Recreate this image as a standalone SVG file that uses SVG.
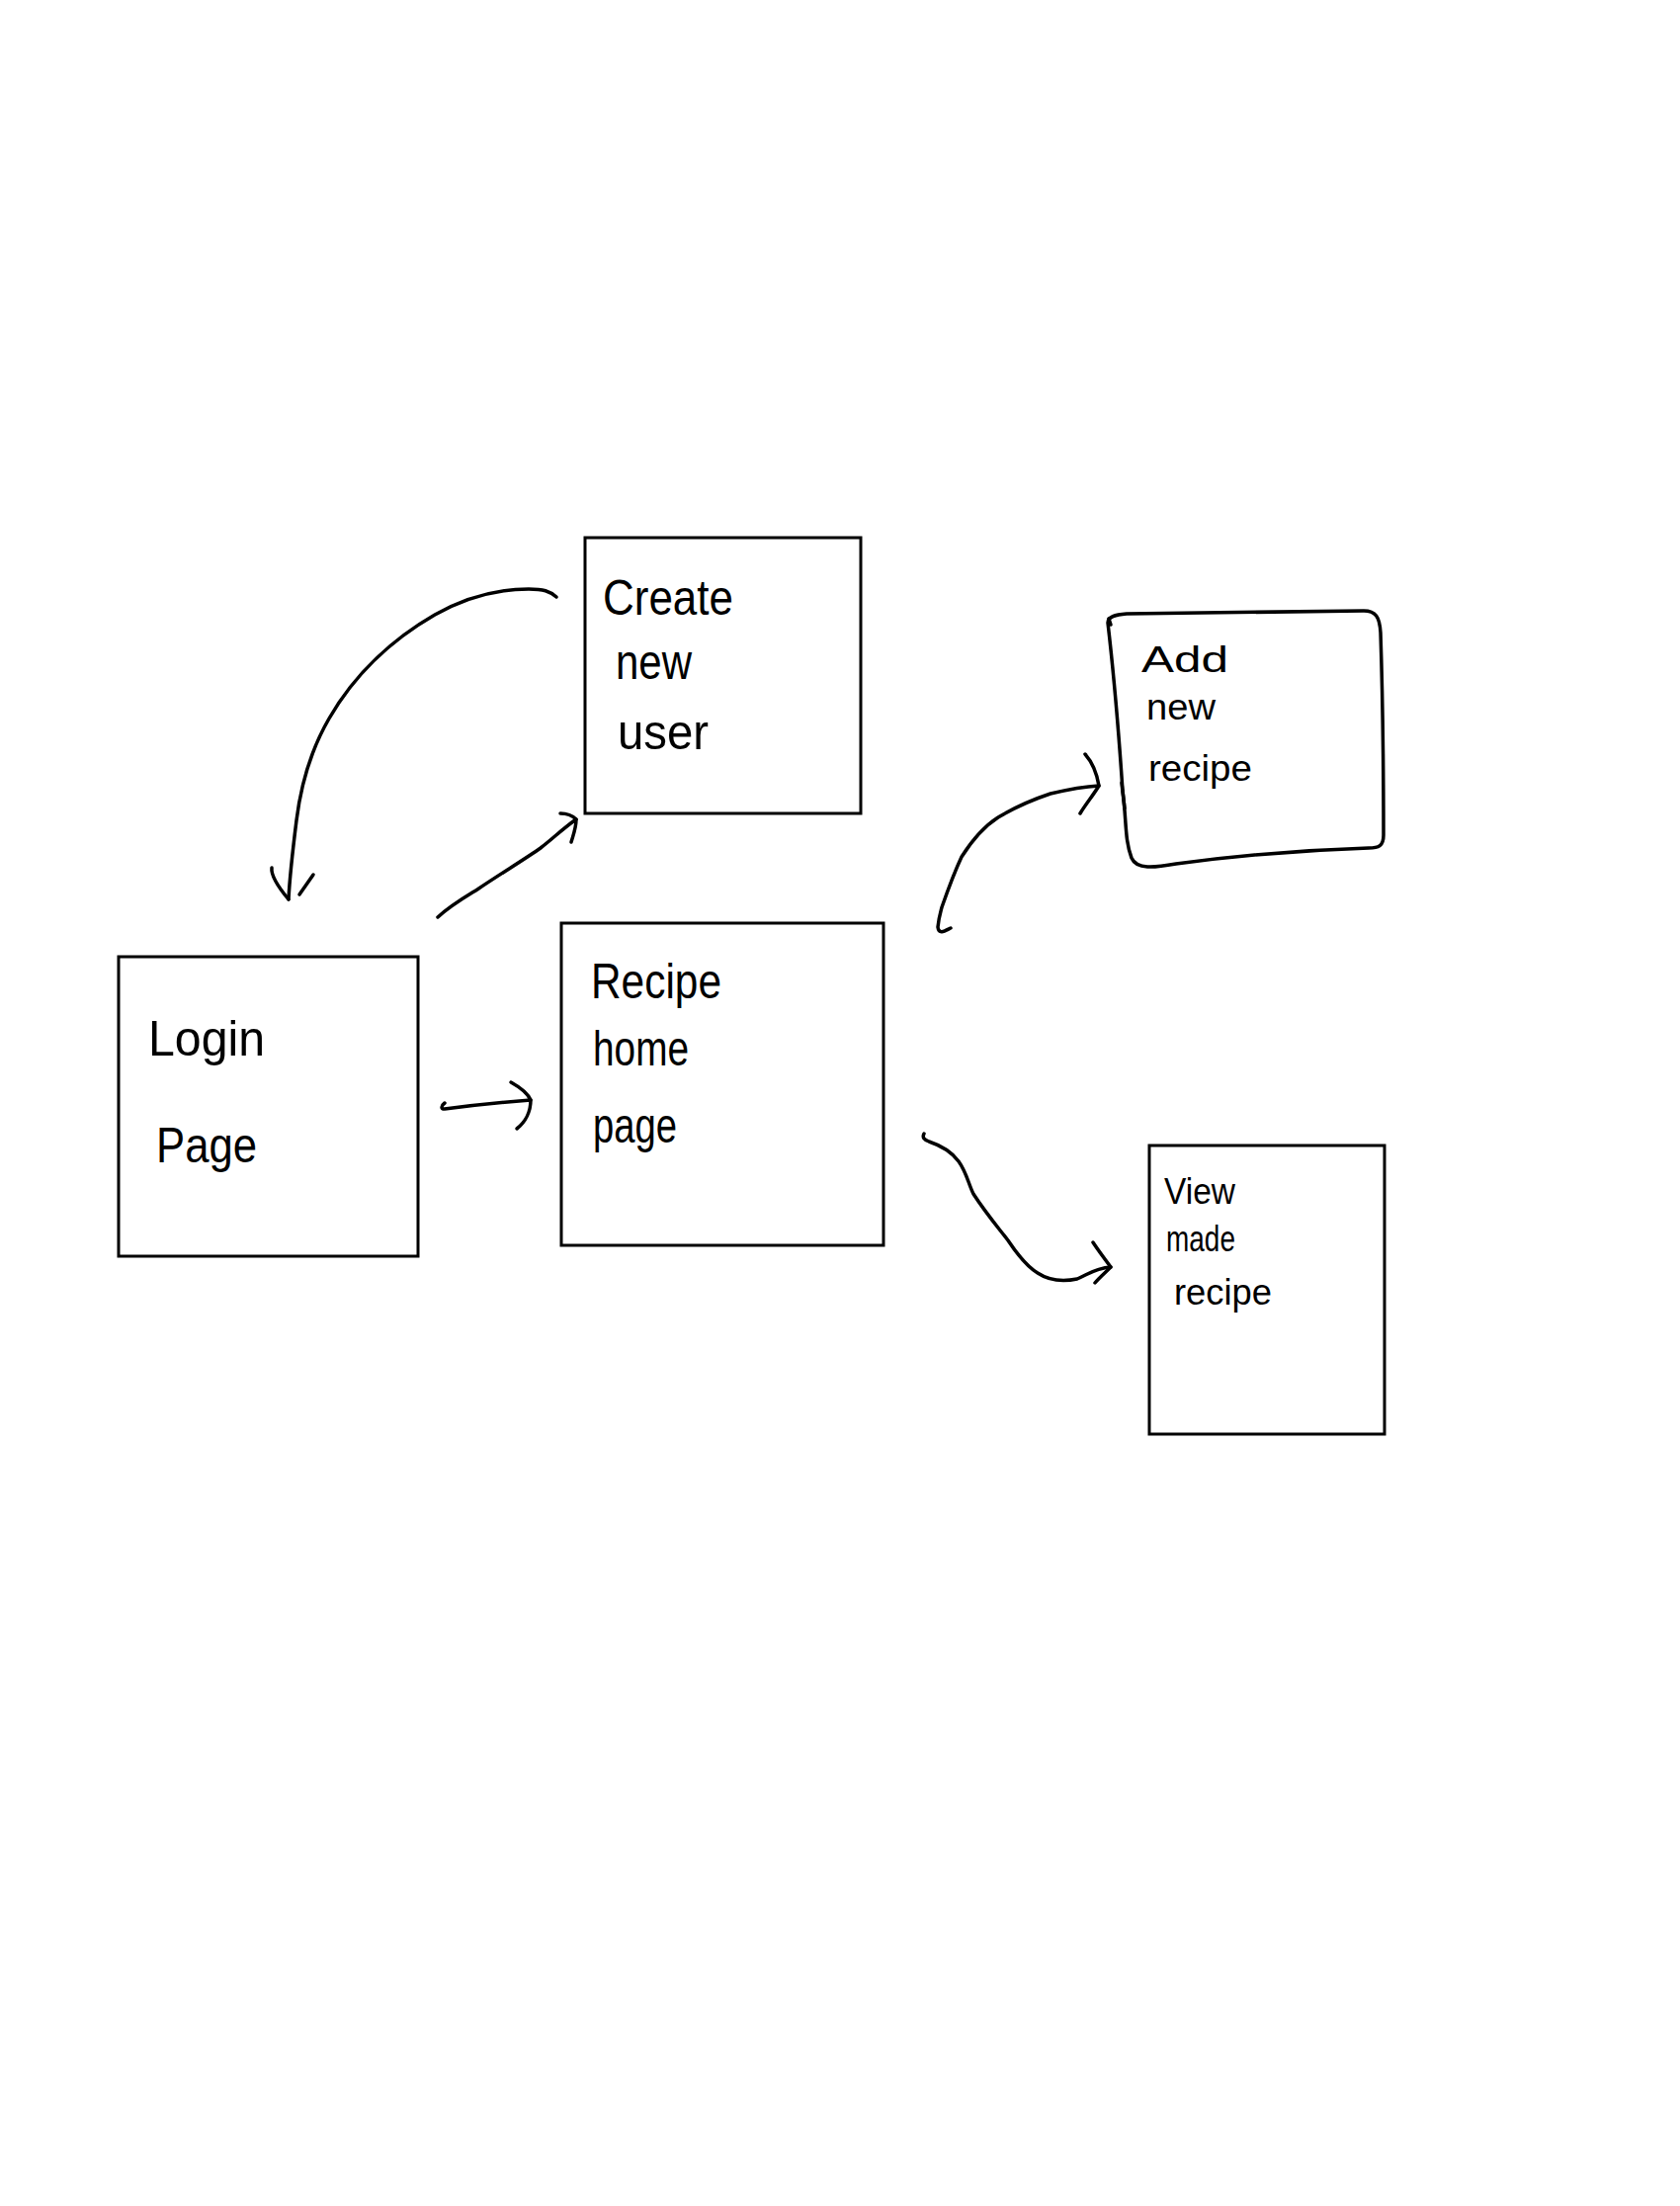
<svg xmlns="http://www.w3.org/2000/svg" width="1700" height="2232" viewBox="0 0 1700 2232">
  <style>
    .box { fill: none; stroke: #000; stroke-width: 3; }
    .ink { fill: none; stroke: #000; stroke-width: 3.5; stroke-linecap: round; stroke-linejoin: round; }
    .lbl { font-family: "Liberation Sans", Arial, sans-serif; fill: #000; }
    .big { font-size: 50px; }
    .sm { font-size: 37px; }
  </style>
  <rect width="1700" height="2232" fill="#fff"/>

  <!-- Create new user -->
  <g id="create-user">
    <rect class="box" x="592" y="544" width="279" height="279"/>
    <text class="lbl big" x="610" y="622" textLength="132" lengthAdjust="spacingAndGlyphs">Create</text>
    <text class="lbl big" x="623" y="687" textLength="77" lengthAdjust="spacingAndGlyphs">new</text>
    <text class="lbl big" x="625" y="758" textLength="92" lengthAdjust="spacingAndGlyphs">user</text>
  </g>

  <!-- Login page -->
  <g id="login-page">
    <rect class="box" x="120" y="968" width="303" height="303"/>
    <text class="lbl big" x="150" y="1068" textLength="118" lengthAdjust="spacingAndGlyphs">Login</text>
    <text class="lbl big" x="158" y="1176" textLength="102" lengthAdjust="spacingAndGlyphs">Page</text>
  </g>

  <!-- Recipe home page -->
  <g id="recipe-home">
    <rect class="box" x="568" y="934" width="326" height="326"/>
    <text class="lbl big" x="598" y="1010" textLength="132" lengthAdjust="spacingAndGlyphs">Recipe</text>
    <text class="lbl big" x="600" y="1078" textLength="97" lengthAdjust="spacingAndGlyphs">home</text>
    <text class="lbl big" x="600" y="1156" textLength="85" lengthAdjust="spacingAndGlyphs">page</text>
  </g>

  <!-- Add new recipe (hand-drawn frame) -->
  <g id="add-recipe">
    <path class="ink" d="M1121,630 C1121,624 1128,622 1140,621 C1220,620 1300,619 1380,618 C1392,618 1396,624 1397,640 C1399,700 1400,780 1400,845 C1400,856 1395,858 1385,858 C1320,860 1250,866 1190,874 C1168,878 1150,880 1145,868 C1138,850 1140,830 1136,800 C1132,740 1128,690 1121,630 Z"/>
    <path class="ink" d="M1124,632 L1122,626"/>
    <path class="ink" d="M1135,792 L1138,818"/>
    <text class="lbl sm" x="1155" y="680" textLength="88" lengthAdjust="spacingAndGlyphs">Add</text>
    <text class="lbl sm" x="1160" y="728" textLength="70" lengthAdjust="spacingAndGlyphs">new</text>
    <text class="lbl sm" x="1162" y="790" textLength="105" lengthAdjust="spacingAndGlyphs">recipe</text>
  </g>

  <!-- View made recipe -->
  <g id="view-recipe">
    <rect class="box" x="1163" y="1159" width="238" height="292"/>
    <text class="lbl sm" x="1178" y="1218" textLength="72" lengthAdjust="spacingAndGlyphs">View</text>
    <text class="lbl sm" x="1180" y="1266" textLength="70" lengthAdjust="spacingAndGlyphs">made</text>
    <text class="lbl sm" x="1188" y="1320" textLength="99" lengthAdjust="spacingAndGlyphs">recipe</text>
  </g>

  <!-- Connectors -->
  <g id="connectors">
    <!-- create user back to login -->
    <path class="ink" d="M563,604 C556,598 550,596 535,596 C500,596 470,605 440,622 C400,645 360,680 333,727 C315,758 305,790 300,830 C295,870 293,890 292,910"/>
    <path class="ink" d="M275,878 C274,886 282,898 292,910"/>
    <path class="ink" d="M317,885 L303,905"/>

    <!-- login to create user -->
    <path class="ink" d="M443,928 C456,916 470,908 483,900 C505,885 530,870 547,858 C560,848 570,838 583,829"/>
    <path class="ink" d="M567,823 C574,823 580,826 583,829 C583,838 580,845 578,852"/>

    <!-- login to recipe home -->
    <path class="ink" d="M450,1116 C446,1119 446,1122 450,1122 C480,1118 510,1115 537,1113"/>
    <path class="ink" d="M517,1095 C526,1100 534,1106 537,1113 C537,1124 532,1135 523,1142"/>

    <!-- recipe home to add recipe -->
    <path class="ink" d="M962,939 C956,942 950,946 949,938 C950,928 952,922 953,918 C960,898 966,882 973,867 C985,848 996,836 1010,827 C1030,815 1048,808 1063,803 C1080,799 1095,796 1112,795"/>
    <path class="ink" d="M1098,763 C1106,772 1110,783 1112,795 C1106,805 1099,813 1093,823"/>

    <!-- recipe home to view recipe -->
    <path class="ink" d="M935,1147 C933,1151 935,1153 940,1155 C952,1159 962,1164 970,1175 C978,1186 980,1198 985,1208 C998,1228 1010,1242 1020,1255 C1030,1270 1040,1282 1050,1288 C1062,1296 1075,1297 1090,1294 C1100,1290 1108,1283 1124,1282"/>
    <path class="ink" d="M1106,1257 C1112,1266 1118,1274 1124,1282 C1118,1288 1112,1293 1108,1298"/>
  </g>
</svg>
